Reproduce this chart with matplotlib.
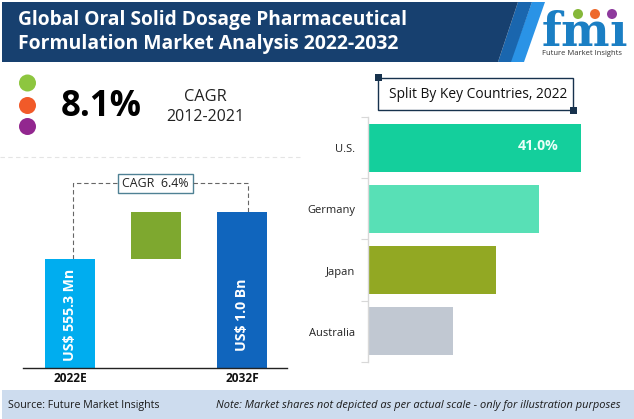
import matplotlib
matplotlib.use('Agg')
import matplotlib.pyplot as plt
from matplotlib.patches import Polygon, Rectangle, Circle

W, H = 634, 419

# left chart, sizes in US$ Mn (2032F and step)
years = ['2022E', '', '2032F']
bar_bottom = [0, 555.3, 0]
bar_height = [555.3, 239.7, 795.0]
bar_colors = ['#00adef', '#7ea82f', '#1065bd']
bar_labels = ['US$ 555.3 Mn', '', 'US$ 1.0 Bn']

# right chart, share %
countries = ['U.S.', 'Germany', 'Japan', 'Australia']
shares = [41.0, 32.9, 24.6, 16.3]
share_colors = ['#14cf9c', '#58e0b6', '#92a823', '#c1c8d2']

plt.rcParams['font.family'] = ['Open Sans', 'DejaVu Sans']
plt.rcParams['mathtext.fontset'] = 'dejavuserif'

def px_axes(x0, y0, x1, y1):
    # axes placed with picture pixels, y going down
    return fig.add_axes([x0 / W, 1 - y1 / H, (x1 - x0) / W, (y1 - y0) / H])

fig = plt.figure(figsize=(W / 100, H / 100), dpi=100, facecolor='white')

# background layer
bg = fig.add_axes([0, 0, 1, 1])
bg.set_xlim(0, W)
bg.set_ylim(H, 0)
bg.axis('off')

# header
bg.add_patch(Polygon([(532, 2), (545, 2), (524, 62), (510, 62)], color='#2a93e6', lw=0))
bg.add_patch(Polygon([(518, 2), (532, 2), (511, 62), (498, 62)], color='#1a66ae', lw=0))
bg.add_patch(Polygon([(2, 2), (518, 2), (498, 62), (2, 62)], color='#17406f', lw=0))
bg.text(18, 19.5, 'Global Oral Solid Dosage Pharmaceutical', color='white', fontsize=13.8,
        fontweight='bold', va='center', ha='left')
bg.text(18, 43.5, 'Formulation Market Analysis 2022-2032', color='white', fontsize=13.95,
        fontweight='bold', va='center', ha='left')

# logo
bg.text(584, 46.5, r'$\mathbf{fm\imath}$', color='#1b7fc4', fontsize=33, ha='center', va='baseline')
for yy in range(21, 49, 4):
    bg.plot([545, 630], [yy, yy], color='white', lw=0.7)
for cx, cc in zip([578, 595, 612], ['#86b83a', '#ee6a2c', '#8e3a9d']):
    bg.add_patch(Circle((cx, 14), 5, color=cc, lw=0, zorder=3))
bg.text(582.5, 53.5, 'Future Market Insights', color='#333333', fontsize=5.5, ha='center', va='center')

# CAGR block
for cy, cc in zip([83, 105.5, 126.5], ['#8dc63f', '#f15a29', '#92278f']):
    bg.add_patch(Circle((27.5, cy), 8.5, color=cc, lw=0))
bg.text(61, 107, '8.1%', fontsize=25, fontweight='bold', color='black', va='center', ha='left')
bg.text(205, 97, 'CAGR', fontsize=11.8, color='#222222', va='center', ha='center')
bg.text(205, 117, '2012-2021', fontsize=11.5, color='#222222', va='center', ha='center')
bg.plot([0, 302], [157, 157], color='#e4e4e4', lw=0.8, ls=(0, (4, 3)))

# CAGR connector
bg.plot([72.5, 72.5, 118], [259, 183, 183], color='#666666', lw=0.8, ls=(0, (4, 2.5)))
bg.plot([193, 248, 248], [183, 183, 212], color='#666666', lw=0.8, ls=(0, (4, 2.5)))
bg.add_patch(Rectangle((118, 174), 75, 19, fc='white', ec='#4f8194', lw=1))
bg.text(155.5, 183.5, 'CAGR  6.4%', fontsize=8.9, color='#222222', ha='center', va='center')

# title box on the right
bg.add_patch(Rectangle((378, 78), 195, 32, fc='white', ec='#17324d', lw=1))
bg.add_patch(Rectangle((374.5, 74.5), 7, 7, color='#17324d', lw=0))
bg.add_patch(Rectangle((569.5, 106.5), 7, 7, color='#17324d', lw=0))
bg.text(478, 94, 'Split By Key Countries, 2022', fontsize=9.9, color='#111111', ha='center', va='center')

# footer
bg.add_patch(Rectangle((2, 390), 632, 29, color='#cddcee', lw=0))
bg.text(8, 405, 'Source: Future Market Insights', fontsize=7.7, color='#1a1a1a', va='center')
bg.text(621, 405, 'Note: Market shares not depicted as per actual scale - only for illustration purposes',
        fontsize=7.92, style='italic', color='#1a1a1a', va='center', ha='right')

# left waterfall
ax = px_axes(23, 200, 287, 368)
ax.patch.set_alpha(0)
ax.bar(range(3), bar_height, bottom=bar_bottom, color=bar_colors, width=50 / 86)
ax.set_xlim(-47 / 86, 217 / 86)
ax.set_ylim(0, 168 / 109 * 555.3)
for s in ['top', 'left', 'right']:
    ax.spines[s].set_visible(False)
ax.spines['bottom'].set_color('#222222')
ax.spines['bottom'].set_linewidth(1)
ax.set_yticks([])
ax.set_xticks(range(3))
ax.set_xticklabels(years, fontsize=8.6, fontweight='bold', color='#111111')
ax.tick_params(axis='x', length=0, pad=3)
for i in [0, 2]:
    ax.text(i, 271, bar_labels[i], rotation=90, color='white',
            fontsize=10.2, fontweight='bold', ha='center', va='center')

# right bars
ax2 = px_axes(368, 117, 600, 362)
ax2.patch.set_alpha(0)
ax2.barh(range(4), shares, color=share_colors, height=48 / 61.2)
ax2.set_ylim(3.5, -0.5)
ax2.set_xlim(0, 232 / 213 * 41.0)
for s in ['top', 'right', 'bottom']:
    ax2.spines[s].set_visible(False)
ax2.spines['left'].set_color('#d8d8d8')
ax2.spines['left'].set_linewidth(1)
ax2.set_xticks([])
ax2.set_yticks([-0.5, 0.5, 1.5, 2.5, 3.5])
ax2.set_yticklabels([])
ax2.tick_params(axis='y', length=5, color='#d8d8d8')
for i, c in enumerate(countries):
    ax2.annotate(c, (0, i), xytext=(-13, -2), textcoords='offset pixels', ha='right', va='center',
                 fontsize=8, color='#222222', xycoords=('axes fraction', 'data'))
ax2.text(shares[0] * 0.80, -0.03, '41.0%', color='#eafff8', fontsize=10.2, fontweight='bold',
         ha='center', va='center')

fig.savefig('out.png', dpi=100)
